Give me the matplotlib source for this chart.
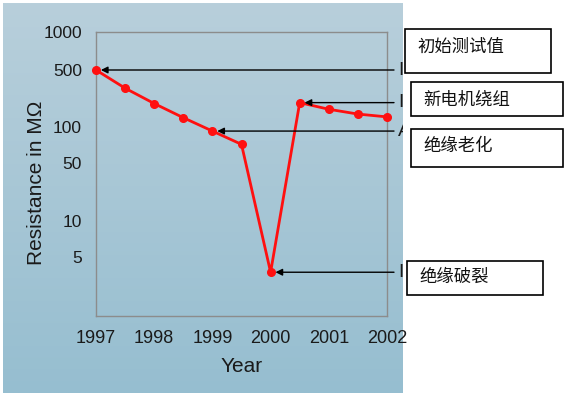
import numpy as np
import matplotlib
matplotlib.use("Agg")
import matplotlib.pyplot as plt
from matplotlib.transforms import Bbox, TransformedBbox
from matplotlib.patches import Rectangle

# ---- data ----
years = [1997, 1997.5, 1998, 1998.5, 1999, 1999.5, 2000, 2000.5, 2001, 2001.5, 2002]
resistance = [500, 300, 195, 131, 93, 72, 3.3, 200, 166, 145, 134]
xticks = [1997, 1998, 1999, 2000, 2001, 2002]
yticks = [5, 10, 50, 100, 500, 1000]
ytick_labels = ["5", "10", "50", "100", "500", "1000"]
notes = ["初始测试值", "新电机绕组", "绝缘老化", "绝缘破裂"]
note_targets_x = [1997, 2000.5, 1999, 2000]
note_targets_y = [500, 200, 93, 3.3]
cut_labels = ["I", "I", "A", "I"]

# ---- piecewise-log scale matching the reference's tick spacing ----
_anchor_vals = np.log10([1, 5, 10, 50, 100, 500, 1000])
_anchor_pos = np.array([0, 59, 95, 152.7, 188.7, 246, 284]) / 284.0

def fwd(v):
    v = np.asarray(v, dtype=float)
    return np.interp(np.log10(np.clip(v, 1e-6, None)), _anchor_vals, _anchor_pos)

def inv(p):
    p = np.asarray(p, dtype=float)
    return 10 ** np.interp(p, _anchor_pos, _anchor_vals)

W, H = 575, 397
fig = plt.figure(figsize=(W / 100, H / 100), dpi=100)
fig.patch.set_facecolor("white")

# background panel with gradient
bg = fig.add_axes([3 / W, 1 - 393 / H, 400 / W, 390 / H])
top = np.array([184, 207, 219]) / 255
bot = np.array([150, 190, 208]) / 255
t = np.linspace(0, 1, 200)[:, None, None]
grad = top * (1 - t) + bot * t
grad = np.repeat(grad, 2, axis=1)
bg.imshow(grad, aspect="auto", extent=[0, 1, 0, 1])
bg.set_axis_off()

ax = fig.add_axes([96 / W, 1 - 316 / H, 291 / W, 284 / H])
ax.patch.set_alpha(0)
ax.set_yscale("function", functions=(fwd, inv))
ax.set_xlim(1997, 2002)
ax.set_ylim(1, 1000)

ax.plot(years, resistance, color="#ff1010", lw=2.0, marker="o", ms=5.5,
        mec="#ff1010", mfc="#ff1010", zorder=3, clip_on=False)

ax.set_xticks(xticks)
ax.set_xticklabels([str(x) for x in xticks])
ax.set_yticks(yticks)
ax.set_yticklabels(ytick_labels)
ax.yaxis.set_minor_locator(matplotlib.ticker.NullLocator())
ax.tick_params(axis="both", length=0, colors="#1a1a1a")
ax.tick_params(axis="x", labelsize=13, pad=10)
ax.tick_params(axis="y", labelsize=12.5, pad=10)
for lab in ax.get_xticklabels() + ax.get_yticklabels():
    lab.set_fontfamily("Liberation Sans")
for s in ax.spines.values():
    s.set_color("#8c8c8c")
    s.set_linewidth(1.0)

ax.set_xlabel("Year", fontsize=15, family="Liberation Sans", color="#1a1a1a", labelpad=7)
fig.text(37 / W, 1 - 183 / H, "Resistance in MΩ", rotation=90, fontsize=15,
         family="Liberation Sans", color="#1a1a1a", ha="center", va="center")

# arrows from right edge to the points
for xt, yt in zip(note_targets_x, note_targets_y):
    ax.annotate("", xy=(xt, yt), xytext=(394 / W, yt),
                xycoords="data", textcoords=("figure fraction", "data"),
                arrowprops=dict(arrowstyle="-|>", color="black", lw=1.0,
                                mutation_scale=10, shrinkA=0, shrinkB=3.5),
                annotation_clip=False)

# cut-off english labels at the panel edge
clip = TransformedBbox(Bbox([[3 / W, 1 - 393 / H], [403 / W, 1 - 3 / H]]), fig.transFigure)
for lab, yt in zip(cut_labels, note_targets_y):
    tx = ax.annotate(lab, xy=(398 / W, yt), xycoords=("figure fraction", "data"),
                     fontsize=14, family="Liberation Sans", color="#1a1a1a",
                     ha="left", va="center", annotation_clip=False)
    tx.set_clip_box(clip)
    tx.set_clip_on(True)

# white boxes with chinese notes
boxes = [(405, 29, 551, 73), (411, 82, 563, 116), (411, 129, 563, 167), (407, 261, 543, 295)]
text_pos = [(417, 47), (423, 100), (423, 146), (419, 277)]
for (x0, y0, x1, y1), (tx_, ty_), s in zip(boxes, text_pos, notes):
    fig.patches.append(Rectangle((x0 / W, 1 - y1 / H), (x1 - x0) / W, (y1 - y0) / H,
                                 transform=fig.transFigure, facecolor="white",
                                 edgecolor="black", lw=1.2, zorder=5))
    fig.text(tx_ / W, 1 - ty_ / H, s, fontsize=12.5, family=["Noto Sans CJK SC", "DejaVu Sans"],
             color="#111111", ha="left", va="center", zorder=6)

fig.savefig("out.png", dpi=100, facecolor="white")
